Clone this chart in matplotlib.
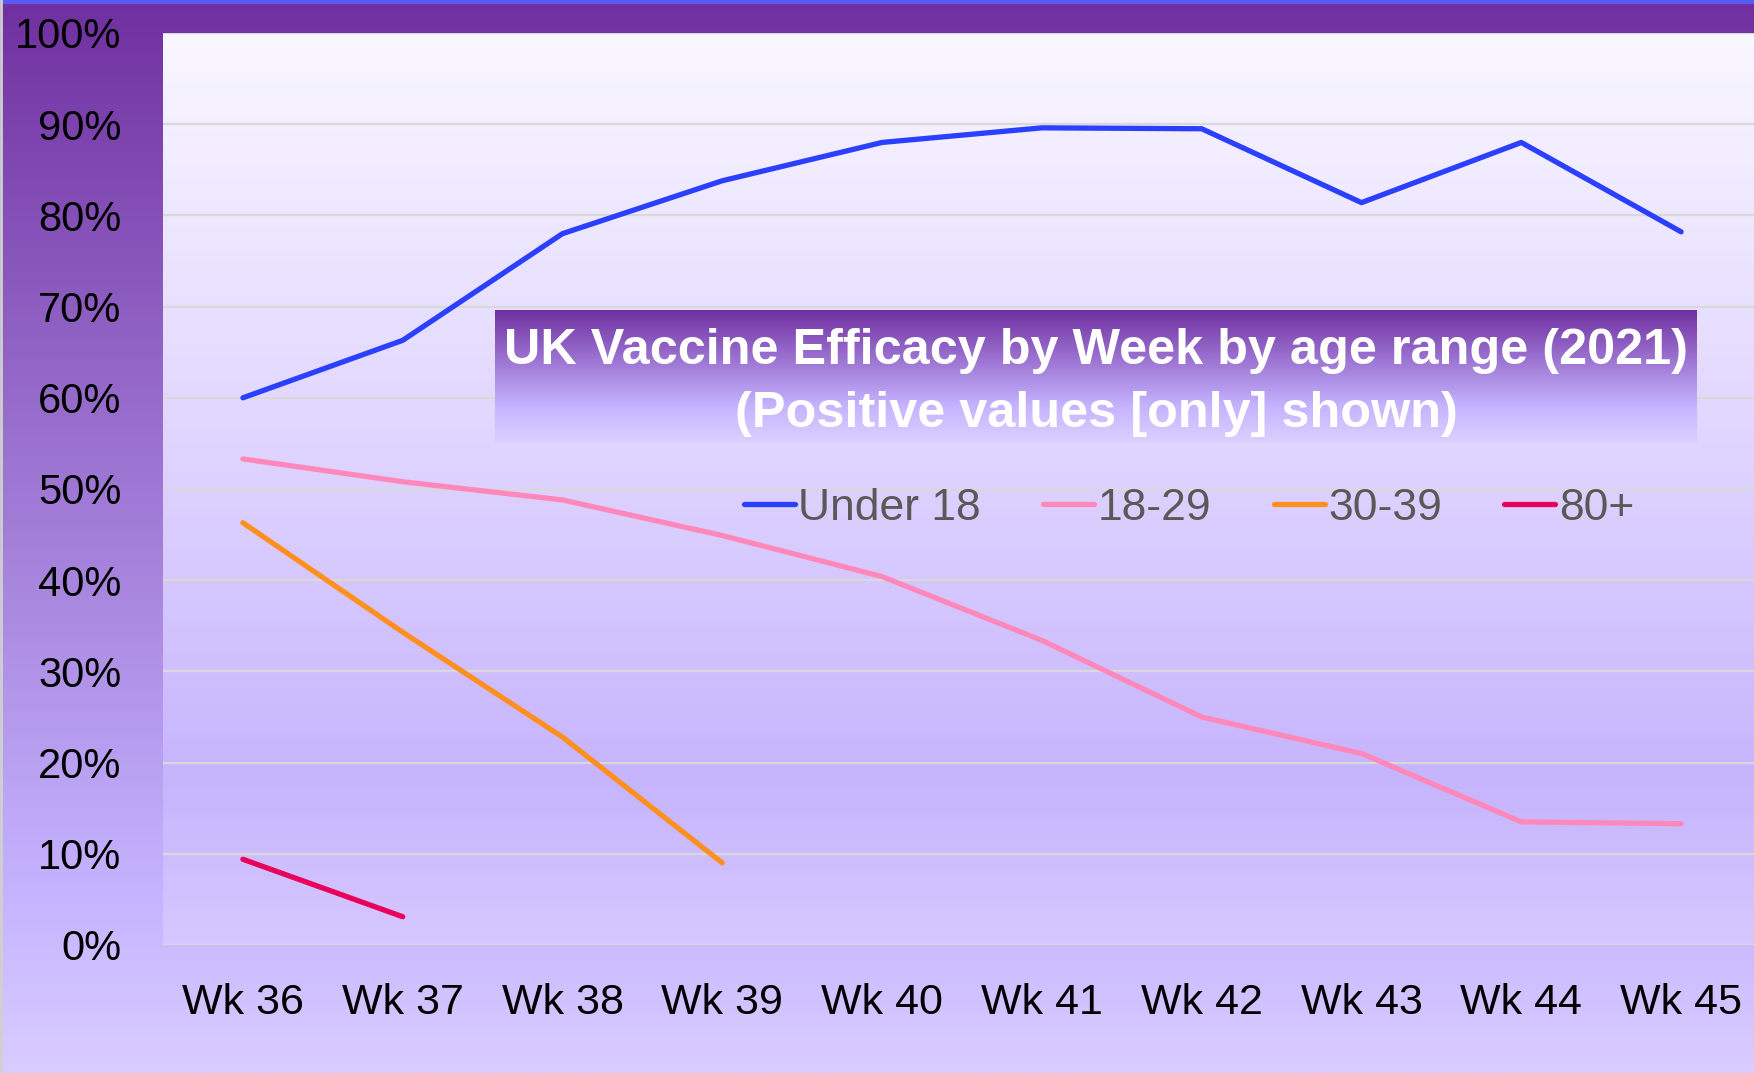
import numpy as np
import matplotlib
matplotlib.use("Agg")
import matplotlib.pyplot as plt
from matplotlib.colors import LinearSegmentedColormap

weeks = ["Wk 36", "Wk 37", "Wk 38", "Wk 39", "Wk 40", "Wk 41", "Wk 42", "Wk 43", "Wk 44", "Wk 45"]
under18 = [60.0, 66.3, 78.0, 83.8, 88.0, 89.6, 89.5, 81.4, 88.0, 78.2]
age18_29 = [53.3, 50.8, 48.8, 44.9, 40.4, 33.4, 25.0, 21.0, 13.5, 13.3]
age30_39 = [46.3, 34.3, 22.8, 9.0]
age80p = [9.4, 3.1]
series_names = ["Under 18", "18-29", "30-39", "80+"]
series_colors = ["#2B3FFF", "#FF88BB", "#FF9020", "#E8005A"]
yticks = [0, 10, 20, 30, 40, 50, 60, 70, 80, 90, 100]
title_lines = ["UK Vaccine Efficacy by Week by age range (2021)", "(Positive values [only] shown)"]

plt.rcParams['font.family'] = ['Liberation Sans', 'DejaVu Sans']

W, H = 1754, 1073
fig = plt.figure(figsize=(W / 100, H / 100), dpi=100)

def vgrad(stops):
    return LinearSegmentedColormap.from_list("g", stops)

# figure background
bg = fig.add_axes([0, 0, 1, 1], zorder=-10)
cm_bg = vgrad([(0.0, "#7030A0"), (0.83, "#C5B3FF"), (1.0, "#D9CCFF")])
grad = np.linspace(0, 1, 512).reshape(-1, 1)
bg.imshow(grad, cmap=cm_bg, aspect="auto", extent=[0, 1, 0, 1], origin="upper")
bg.set_xlim(0, 1); bg.set_ylim(0, 1)
bg.axis("off")
bg.plot([0, 1], [0.998, 0.998], color="#5A5AF5", lw=3, transform=bg.transAxes)
bg.plot([0.0006, 0.0006], [0, 1], color="#D0D0D0", lw=2, transform=bg.transAxes)

left, right = 163 / W, (163 + 1598) / W
bottom, top = 1 - 945 / H, 1 - 33 / H
ax = fig.add_axes([left, bottom, right - left, top - bottom])
ax.set_facecolor("none")
cm_pa = vgrad([(0.0, "#F9F7FF"), (0.5, "#DDD1FF"), (0.82, "#C6B4FD"), (1.0, "#D6C8FF")])
x = np.arange(len(weeks))
ax.imshow(grad, cmap=cm_pa, aspect="auto", extent=[-0.5, len(weeks) - 0.5, 0, 100],
          origin="upper", zorder=0)
ax.set_xlim(-0.5, len(weeks) - 0.5)
ax.set_ylim(0, 100)

for yv in yticks:
    ax.axhline(yv, color="#D9D9D9", lw=1.6, zorder=1)

data = [under18, age18_29, age30_39, age80p]
handles = []
for vals, name, col in zip(data, series_names, series_colors):
    h, = ax.plot(x[:len(vals)], vals, color=col, lw=3.8, solid_capstyle="round",
                 solid_joinstyle="round", label=name, zorder=3)
    handles.append(h)

ax.set_xticks(x)
ax.set_xticklabels(weeks, fontsize=31, color="black")
ax.set_yticks(yticks)
ax.set_yticklabels([f"{v}%" for v in yticks], fontsize=30, color="black")
ax.tick_params(axis="both", length=0)
ax.tick_params(axis="y", pad=30)
ax.tick_params(axis="x", pad=27)
for s in ax.spines.values():
    s.set_visible(False)

leg = ax.legend(handles=handles, loc="center", bbox_to_anchor=(1189 / W, 1 - 508 / H),
                bbox_transform=fig.transFigure, ncol=4, frameon=False, fontsize=32,
                handlelength=1.15, handletextpad=0.08, columnspacing=1.4, borderpad=0)
for t in leg.get_texts():
    t.set_color("#595959")
for lh in leg.get_lines():
    lh.set_solid_capstyle("round")
    lh.set_linewidth(3.8)

# title box
tb = fig.add_axes([495 / W, 1 - 443 / H, (1697 - 495) / W, (443 - 310) / H], zorder=5)
cm_tb = vgrad([(0.0, "#7030A0"), (0.72, "#C5B3FF"), (1.0, "#DCD0FF")])
tb.imshow(grad, cmap=cm_tb, aspect="auto", extent=[0, 1, 0, 1], origin="upper")
tb.axis("off")
fig.text(1096 / W, 1 - 351 / H, title_lines[0], ha="center", va="center", fontsize=36.3,
         fontweight="bold", color="white", zorder=10)
fig.text(1096 / W, 1 - 414 / H, title_lines[1], ha="center", va="center", fontsize=36.3,
         fontweight="bold", color="white", zorder=10)

fig.savefig("out.png", dpi=100)
